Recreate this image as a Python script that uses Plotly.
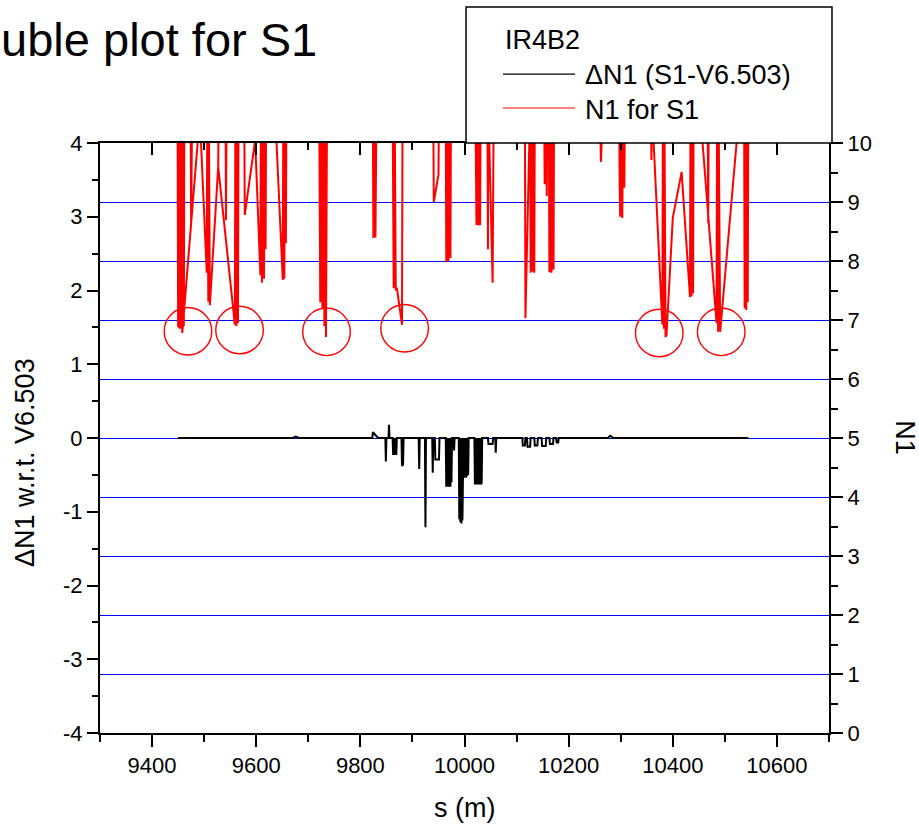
import plotly.graph_objects as go

# ---------------- data ----------------
# N1 for S1 (right axis); values above 10 run off the top of the frame
red_s = [9449, 9450, 9451, 9452, 9453, 9454, 9455, 9456, 9457, 9460, 9461, 9462, 9459, 9458,
         9488, 9490, 9474, 9475, 9477, 9491,
         9505, 9506, 9508, 9509, 9511, 9527, 9528, 9541, 9542, 9543, 9528, 9527,
         9559, 9560, 9562, 9563, 9565, 9566, 9577, 9578, 9598,
         9608, 9609, 9611, 9612, 9615, 9616, 9618, 9619,
         9636, 9651, 9652, 9654, 9655, 9657, 9658,
         9721, 9723, 9724, 9727, 9728, 9731, 9732, 9734, 9736,
         9824, 9825, 9827, 9829, 9831,
         9862, 9864, 9866, 9868, 9870, 9880, 9881,
         9940, 9941, 9950, 9951,
         9964, 9965, 9967, 9969, 9971, 9973, 9974,
         10021, 10023, 10025, 10027, 10029, 10030, 10031,
         10044, 10045, 10046, 10054, 10056,
         10116, 10117, 10126, 10127, 10129, 10131, 10133, 10134, 10135,
         10153, 10154, 10156, 10158, 10159,
         10162, 10163, 10165, 10167, 10169, 10171, 10172,
         10260, 10262, 10266,
         10297, 10298, 10299, 10301, 10303, 10305, 10307, 10308,
         10358, 10359, 10360, 10380, 10381, 10383, 10384, 10386, 10388, 10400, 10417,
         10433, 10434, 10436, 10437, 10439, 10440,
         10467, 10468, 10469, 10452, 10484, 10485, 10487, 10488, 10490, 10491, 10523, 10524,
         10537, 10538, 10540, 10541, 10543, 10544, 10545]
red_n1 = [10.6, 6.88, 10.6, 6.86, 10.6, 6.85, 10.6, 6.86, 10.6, 10.6, 6.90, 10.6, 10.6, 6.78,
          10.05, 10.6, 10.6, 8.61, 10.6, 10.6,
          7.80, 10.6, 7.31, 10.6, 7.25, 9.60, 10.6, 10.6, 8.69, 10.6, 10.6, 9.60,
          6.92, 10.6, 6.90, 10.6, 6.95, 10.6, 10.6, 8.78, 10.05,
          7.76, 10.6, 7.63, 10.6, 7.70, 10.6, 8.20, 10.6,
          10.6, 7.68, 10.6, 7.70, 10.6, 8.30, 10.6,
          10.6, 7.30, 10.6, 7.20, 10.6, 6.90, 10.6, 6.71, 10.6,
          10.6, 8.39, 10.6, 8.40, 10.6,
          10.6, 7.54, 10.6, 7.50, 7.55, 6.92, 10.6,
          10.6, 9.00, 9.46, 10.6,
          10.6, 7.98, 10.6, 8.00, 10.6, 8.05, 10.6,
          10.6, 8.61, 10.6, 8.60, 10.6, 8.61, 10.6,
          10.6, 8.20, 10.6, 7.63, 10.6,
          10.6, 7.03, 10.6, 7.80, 10.6, 7.82, 10.6, 7.80, 10.6,
          10.6, 9.30, 10.6, 9.10, 10.6,
          10.6, 7.81, 10.6, 7.80, 10.6, 7.85, 10.6,
          10.6, 9.68, 10.6,
          10.6, 9.30, 8.75, 10.6, 8.73, 10.6, 9.24, 10.6,
          10.6, 9.71, 10.6, 6.92, 10.6, 6.85, 10.6, 6.71, 6.75, 8.73, 9.51,
          7.39, 10.6, 7.40, 10.6, 7.45, 10.6,
          10.6, 8.64, 10.6, 10.6, 6.95, 10.6, 6.80, 10.6, 6.85, 6.80, 10.05, 10.6,
          10.6, 7.20, 10.6, 7.17, 10.6, 7.30, 10.6]

# Delta N1 (S1 - V6.503), left axis
dn_s = [9450, 9670, 9676, 9682, 9823, 9824, 9834, 9848, 9849, 9850, 9854, 9855, 9856,
        9862, 9863, 9864, 9866, 9867, 9869, 9870, 9879, 9880, 9882, 9883, 9912, 9913, 9914,
        9924, 9925, 9926, 9938, 9939, 9940, 9943, 9944, 9951, 9952,
        9964, 9965, 9966, 9967, 9968, 9969, 9970, 9971, 9972, 9973, 9974, 9975, 9976,
        9979, 9980, 9981, 9989, 9990, 9991, 9992, 9993, 9994, 9995, 9996, 9997, 9998, 9999,
        10000, 10001, 10002, 10003, 10004, 10005, 10006, 10007, 10008,
        10019, 10020, 10021, 10022, 10023, 10024, 10025, 10026, 10027, 10028, 10029, 10030,
        10031, 10032, 10033, 10034, 10045, 10046, 10054, 10055, 10059, 10060, 10061,
        10111, 10112, 10116, 10117, 10120, 10121, 10126, 10127, 10134, 10135, 10140, 10141,
        10148, 10149, 10156, 10157, 10163, 10164, 10170, 10171, 10176, 10177, 10180, 10181,
        10275, 10280, 10286, 10545]
dn_val = [0, 0, 0.02, 0, 0, 0.08, 0, 0, -0.32, 0, 0, 0.18, 0,
          0, -0.23, 0, -0.23, 0, -0.23, 0, 0, -0.38, -0.36, 0, 0, -0.42, 0,
          0, -1.21, 0, 0, -0.47, 0, 0, -0.29, -0.29, 0,
          0, -0.66, 0, -0.66, 0, -0.66, 0, -0.66, 0, -0.66, 0, -0.60, 0,
          0, -0.17, 0, 0, -1.10, 0, -1.14, 0, -1.16, 0, -1.12, -0.54, 0, -0.54,
          0, -0.54, 0, -0.54, 0, -0.52, 0, -0.50, 0,
          0, -0.63, 0, -0.63, 0, -0.63, 0, -0.63, 0, -0.63, 0, -0.63,
          0, -0.63, -0.60, 0, 0, -0.08, -0.08, 0, 0, -0.20, 0,
          0, -0.10, -0.10, 0, 0, -0.12, -0.12, 0, 0, -0.10, -0.10, 0,
          0, -0.11, -0.11, 0, 0, -0.08, -0.08, 0, 0, -0.06, -0.06, 0,
          0, 0.03, 0, 0]

# circled minima (s, N1)
circle_s = [9469, 9568, 9735, 9885, 10374, 10493]
circle_n1 = [6.81, 6.83, 6.80, 6.86, 6.78, 6.80]

left_ticks = [-4, -3, -2, -1, 0, 1, 2, 3, 4]
left_ticktext = ["-4", "-3", "-2", "-1", "0", "1", "2", "3", "4"]
left_minor = [-3.5, -2.5, -1.5, -0.5, 0.5, 1.5, 2.5, 3.5]

FONT = "Liberation Sans, Arial, sans-serif"

fig = go.Figure()
fig.add_trace(go.Scatter(x=red_s, y=red_n1, mode="lines", name="N1 for S1",
                         line=dict(color="#ff0000", width=2), xaxis="x", yaxis="y",
                         showlegend=False))
fig.add_trace(go.Scatter(x=dn_s, y=dn_val, mode="lines", name="\u0394N1 (S1-V6.503)",
                         line=dict(color="#000000", width=2), xaxis="x2", yaxis="y2",
                         showlegend=False))

# circles around minima
rx, ry = 45.7, 0.403
for cs, cn in zip(circle_s, circle_n1):
    fig.add_shape(type="circle", xref="x", yref="y", x0=cs - rx, x1=cs + rx,
                  y0=cn - ry, y1=cn + ry, line=dict(color="#ff0000", width=1.4))

# legend box (manual)
fig.add_shape(type="rect", xref="paper", yref="paper", x0=0.5021, x1=1.0041, y0=1.0, y1=1.2304,
              line=dict(color="black", width=1.5), fillcolor="white", layer="above")
fig.add_shape(type="line", xref="paper", yref="paper", x0=0.5528, x1=0.6516, y0=1.1169, y1=1.1169,
              line=dict(color="black", width=1.2))
fig.add_shape(type="line", xref="paper", yref="paper", x0=0.5528, x1=0.6516, y0=1.0593, y1=1.0593,
              line=dict(color="#ff0000", width=1.2))
ann = [
    dict(text="IR4B2", x=0.5528, y=1.1746, xanchor="left", yanchor="middle", font=dict(size=27)),
    dict(text="\u0394N1 (S1-V6.503)", x=0.6626, y=1.1153, xanchor="left", yanchor="middle", font=dict(size=27)),
    dict(text="N1 for S1", x=0.6626, y=1.0559, xanchor="left", yanchor="middle", font=dict(size=27)),
    dict(text="Double plot for S1", x=0.3004, y=1.1746, xanchor="right", yanchor="middle", font=dict(size=47)),
    dict(text="s (m)", x=0.5, y=-0.127, xanchor="center", yanchor="middle", font=dict(size=27)),
    dict(text="\u0394N1 w.r.t. V6.503", x=-0.1029, y=0.4593, xanchor="center", yanchor="middle",
         textangle=-90, font=dict(size=27)),
    dict(text="N1", x=1.104, y=0.5, xanchor="center", yanchor="middle", textangle=90, font=dict(size=27)),
]
for a in ann:
    a.update(xref="paper", yref="paper", showarrow=False)
    a["font"].update(family=FONT, color="black")
    fig.add_annotation(**a)

axis_common = dict(showline=True, linecolor="black", linewidth=2, tickcolor="black", tickwidth=2,
                   zeroline=False, tickfont=dict(family=FONT, size=22, color="black"))

fig.update_layout(
    width=919, height=825,
    margin=dict(l=100, r=90, t=143, b=92),
    paper_bgcolor="white", plot_bgcolor="white",
    font=dict(family=FONT, color="black"),
    xaxis=dict(range=[9300, 10700], side="bottom", anchor="y", ticks="outside", ticklen=12,
               tick0=9400, dtick=200, tickformat="d", showgrid=False,
               minor=dict(ticks="outside", ticklen=7, tickwidth=2, tickcolor="black", tick0=9300, dtick=100),
               **axis_common),
    yaxis=dict(range=[0, 10], side="right", anchor="x", ticks="outside", ticklen=12, tick0=0, dtick=1,
               showgrid=True, gridcolor="#0000ff", gridwidth=1,
               minor=dict(ticks="outside", ticklen=7, tickwidth=2, tickcolor="black", tick0=0, dtick=0.5),
               **axis_common),
    xaxis2=dict(range=[9300, 10700], overlaying="x", side="top", anchor="y2", ticks="inside", ticklen=12,
                tick0=9400, dtick=200, showgrid=False, showticklabels=False,
                minor=dict(ticks="inside", ticklen=7, tickwidth=2, tickcolor="black", tick0=9300, dtick=100),
                **axis_common),
    yaxis2=dict(range=[-4, 4], overlaying="y", side="left", anchor="x2", ticks="outside", ticklen=11,
                tickmode="array", tickvals=left_ticks, ticktext=left_ticktext, showgrid=False,
                minor=dict(ticks="outside", ticklen=6, tickwidth=2, tickcolor="black",
                           tickmode="array", tickvals=left_minor),
                **axis_common),
)

fig.write_html("out.html")
